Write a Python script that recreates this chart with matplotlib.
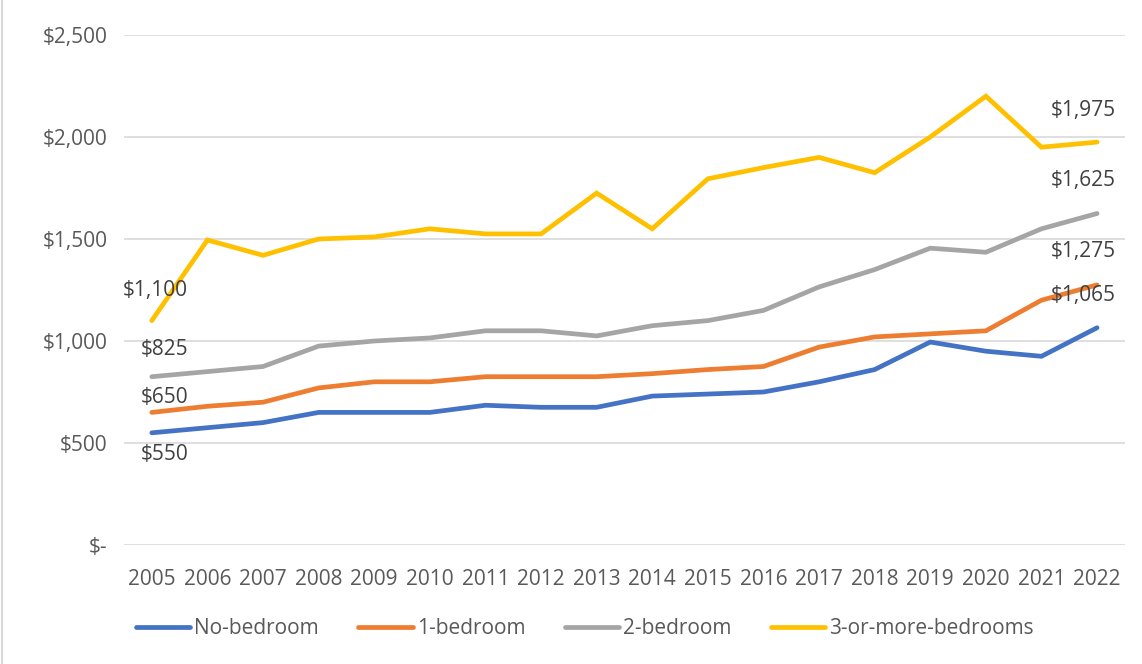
import matplotlib
matplotlib.use("Agg")
import matplotlib.pyplot as plt
from matplotlib.lines import Line2D
import numpy as np

plt.rcParams['font.family'] = ['Open Sans', 'DejaVu Sans']

years = [str(y) for y in range(2005, 2023)]
no_bedroom = [550, 575, 600, 650, 650, 650, 685, 675, 675, 730, 740, 750, 800, 860, 995, 950, 925, 1065]
one_bedroom = [650, 680, 700, 770, 800, 800, 825, 825, 825, 840, 860, 875, 970, 1020, 1035, 1050, 1200, 1275]
two_bedroom = [825, 850, 875, 975, 1000, 1015, 1050, 1050, 1025, 1075, 1100, 1150, 1265, 1350, 1455, 1435, 1550, 1625]
three_plus = [1100, 1495, 1420, 1500, 1510, 1550, 1525, 1525, 1725, 1550, 1795, 1850, 1900, 1825, 2000, 2200, 1950, 1975]
series_names = ["No-bedroom", "1-bedroom", "2-bedroom", "3-or-more-bedrooms"]
colors = ["#4472C4", "#ED7D31", "#A5A5A5", "#FFC000"]
yticks = [0, 500, 1000, 1500, 2000, 2500]
ytick_labels = ["$-", "$500", "$1,000", "$1,500", "$2,000", "$2,500"]

fig = plt.figure(figsize=(11.42, 6.64), dpi=100)
ax = fig.add_axes([0.1086, 0.1792, 0.8764, 0.7681])

x = np.arange(len(years))
all_series = [no_bedroom, one_bedroom, two_bedroom, three_plus]
for vals, nm, c in zip(all_series, series_names, colors):
    ax.plot(x, vals, color=c, lw=3.4, label=nm, solid_capstyle='round', solid_joinstyle='miter')

ax.set_xlim(-0.5, len(years) - 0.5)
ax.set_ylim(0, 2500)
ax.set_yticks(yticks)
ax.set_yticklabels(ytick_labels)
ax.set_xticks(x)
ax.set_xticklabels(years)
ax.grid(axis='y', color='#D9D9D9', lw=1.2)
ax.set_axisbelow(True)
for s in ax.spines.values():
    s.set_visible(False)
ax.tick_params(axis='both', length=0, labelsize=15, colors='#595959')
ax.tick_params(axis='x', pad=17)
ax.tick_params(axis='y', pad=12)

# data labels at first and last year
lab_col = '#404040'
first_offsets = [(13, -22), (13, 15), (13, 27), (3, 30)]
last_offsets = [(-14, 32), (-14, 33), (-14, 33), (-14, 32)]
for vals, off1, off2 in zip(all_series, first_offsets, last_offsets):
    ax.annotate("${:,}".format(vals[0]), (x[0], vals[0]), xytext=off1, textcoords='offset pixels',
                ha='center', va='center', fontsize=15, color=lab_col)
    ax.annotate("${:,}".format(vals[-1]), (x[-1], vals[-1]), xytext=off2, textcoords='offset pixels',
                ha='center', va='center', fontsize=15, color=lab_col)

fig.legend(loc='center', bbox_to_anchor=(585 / 1142, 1 - 629 / 664), ncol=4, frameon=False,
           fontsize=15, handlelength=2.6, handletextpad=0.2, columnspacing=1.9,
           labelcolor='#595959')

fig.add_artist(Line2D([0.002, 0.002], [0, 1], color='#D9D9D9', lw=1.5, transform=fig.transFigure))

fig.savefig("out.png", dpi=100)
